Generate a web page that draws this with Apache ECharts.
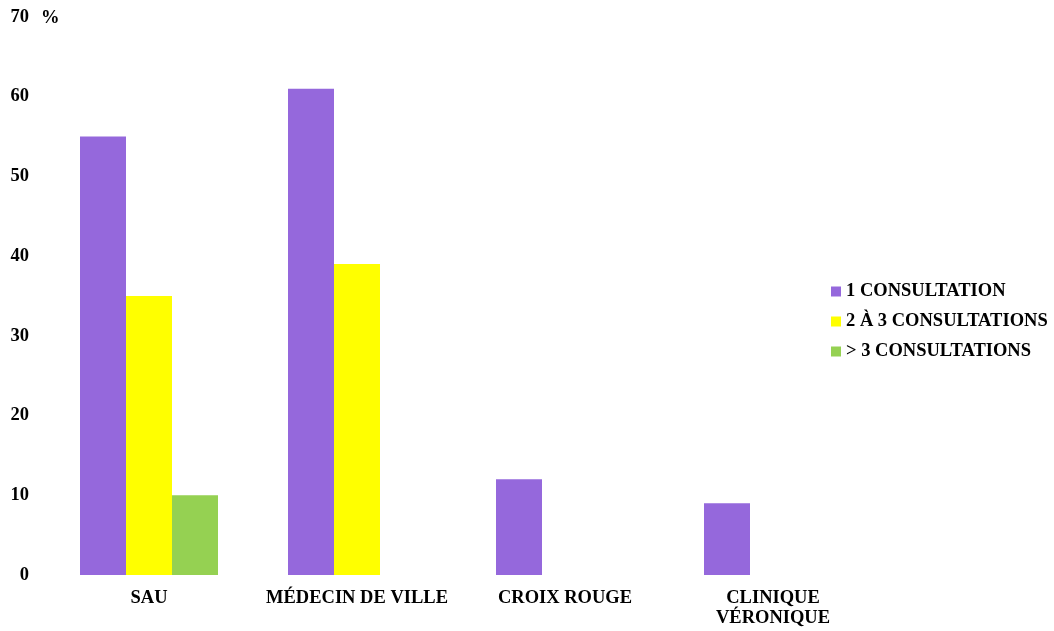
<!DOCTYPE html>
<html>
<head>
<meta charset="utf-8">
<script src="https://cdn.jsdelivr.net/npm/echarts@6/dist/echarts.min.js"></script>
<style>
  html, body { margin: 0; padding: 0; background: #fff; }
  #chart { width: 1054px; height: 631px; }
</style>
</head>
<body>
<div id="chart"></div>
<script>
var categories = ['SAU', 'MÉDECIN DE VILLE', 'CROIX ROUGE', 'CLINIQUE\nVÉRONIQUE'];
var seriesNames = ['1 CONSULTATION', '2 À 3 CONSULTATIONS', '> 3 CONSULTATIONS'];
var oneConsult = [55, 61, 12, 9];
var twoToThree = [35, 39, null, null];
var moreThanThree = [10, null, null, null];
var yTicks = [0, 10, 20, 30, 40, 50, 60, 70];

var colors = ['#9568DC', '#FFFF00', '#95D152'];
var font = '"Liberation Serif", "Times New Roman", serif';

var myChart = echarts.init(document.getElementById('chart'));

var option = {
    animation: false,
    textStyle: { fontFamily: font },
    grid: { left: 45, right: 177, top: 17, bottom: 56 },
    legend: {
        data: seriesNames,
        orient: 'vertical',
        left: 831,
        top: 282,
        padding: 0,
        itemWidth: 10,
        itemHeight: 10,
        itemGap: 11,
        icon: 'rect',
        textStyle: { fontFamily: font, fontWeight: 'bold', fontSize: 18.5, lineHeight: 19, color: '#000' }
    },
    graphic: [{
        type: 'text',
        left: 41,
        top: 9,
        style: { text: '%', font: 'bold 18.5px ' + font, fill: '#000' }
    }],
    xAxis: {
        type: 'category',
        data: categories,
        axisLine: { show: false },
        axisTick: { show: false },
        axisLabel: {
            margin: 13,
            color: '#000',
            fontFamily: font,
            fontWeight: 'bold',
            fontSize: 18.5,
            lineHeight: 20,
            interval: 0
        }
    },
    yAxis: {
        type: 'value',
        min: yTicks[0],
        max: yTicks[yTicks.length - 1],
        interval: 10,
        splitLine: { show: false },
        axisLine: { show: false },
        axisTick: { show: false },
        axisLabel: {
            margin: 16,
            padding: [4, 0, 0, 0],
            color: '#000',
            fontFamily: font,
            fontWeight: 'bold',
            fontSize: 18.5
        }
    },
    series: [
        { name: seriesNames[0], type: 'bar', data: oneConsult, barWidth: 46, barGap: '0%', itemStyle: { color: colors[0] } },
        { name: seriesNames[1], type: 'bar', data: twoToThree, barWidth: 46, barGap: '0%', itemStyle: { color: colors[1] } },
        { name: seriesNames[2], type: 'bar', data: moreThanThree, barWidth: 46, barGap: '0%', itemStyle: { color: colors[2] } }
    ]
};
myChart.setOption(option);
</script>
</body>
</html>
